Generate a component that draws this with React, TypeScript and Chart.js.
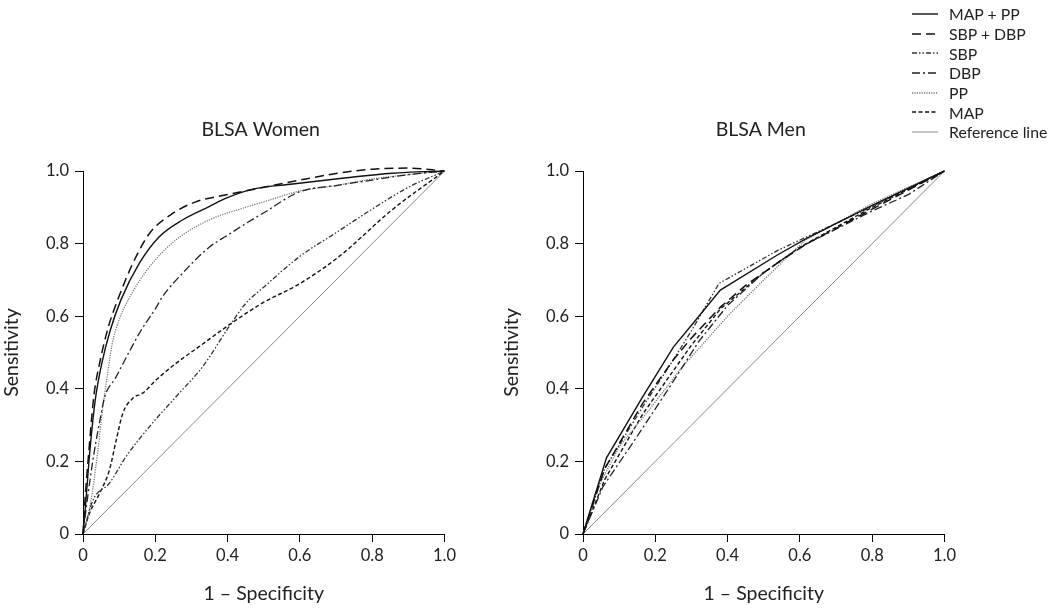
import React, { useEffect, useRef } from "react";
import { Chart, registerables } from "chart.js";
Chart.register(...registerables);

const FONT = "Lato, 'Open Sans', sans-serif";

const seriesNames = ["MAP + PP", "SBP + DBP", "SBP", "DBP", "PP", "MAP", "Reference line"];
const xTickValues = [0, 0.2, 0.4, 0.6, 0.8, 1.0];

// ---- BLSA Women ----
const womenMapPpX = [0, 0.006, 0.02, 0.034, 0.052, 0.075, 0.105, 0.156, 0.211, 0.275, 0.349, 0.396, 0.47, 0.58, 0.717, 0.855, 1];
const womenMapPpY = [0, 0.067, 0.24, 0.37, 0.47, 0.56, 0.645, 0.746, 0.819, 0.865, 0.902, 0.925, 0.95, 0.964, 0.98, 0.994, 1];
const womenSbpDbpX = [0, 0.004, 0.018, 0.03, 0.048, 0.07, 0.096, 0.138, 0.184, 0.248, 0.312, 0.4, 0.5, 0.6, 0.7, 0.8, 0.9, 1];
const womenSbpDbpY = [0, 0.07, 0.25, 0.38, 0.48, 0.57, 0.645, 0.746, 0.828, 0.883, 0.915, 0.935, 0.955, 0.975, 0.993, 1.005, 1.008, 1];
const womenSbpX = [0, 0.028, 0.073, 0.119, 0.184, 0.257, 0.331, 0.404, 0.45, 0.5, 0.6, 0.7, 0.8, 0.9, 1];
const womenSbpY = [0, 0.094, 0.14, 0.213, 0.296, 0.378, 0.461, 0.571, 0.635, 0.68, 0.765, 0.83, 0.895, 0.955, 1];
const womenDbpX = [0, 0.01, 0.03, 0.05, 0.06, 0.09, 0.121, 0.16, 0.2, 0.22, 0.275, 0.349, 0.4, 0.45, 0.5, 0.6, 0.7, 0.8, 0.9, 1];
const womenDbpY = [0, 0.08, 0.22, 0.33, 0.378, 0.43, 0.489, 0.56, 0.62, 0.654, 0.718, 0.79, 0.823, 0.855, 0.885, 0.943, 0.96, 0.975, 0.99, 1];
const womenPpX = [0, 0.02, 0.04, 0.055, 0.065, 0.08, 0.1, 0.125, 0.184, 0.257, 0.349, 0.45, 0.5, 0.6, 0.7, 0.8, 0.9, 1];
const womenPpY = [0, 0.08, 0.22, 0.35, 0.42, 0.52, 0.59, 0.645, 0.736, 0.81, 0.865, 0.9, 0.915, 0.945, 0.96, 0.978, 0.99, 1];
const womenMapX = [0, 0.018, 0.046, 0.073, 0.092, 0.11, 0.138, 0.165, 0.202, 0.257, 0.321, 0.404, 0.496, 0.6, 0.708, 0.855, 1];
const womenMapY = [0, 0.057, 0.112, 0.176, 0.259, 0.332, 0.374, 0.388, 0.424, 0.47, 0.516, 0.576, 0.636, 0.69, 0.764, 0.893, 1];

// ---- BLSA Men ----
const menMapPpX = [0, 0.065, 0.165, 0.25, 0.3, 0.38, 0.54, 0.62, 0.8, 1];
const menMapPpY = [0, 0.21, 0.378, 0.515, 0.575, 0.672, 0.77, 0.815, 0.905, 1];
const menSbpDbpX = [0, 0.06, 0.165, 0.25, 0.3, 0.38, 0.45, 0.55, 0.62, 0.8, 1];
const menSbpDbpY = [0, 0.18, 0.36, 0.48, 0.54, 0.625, 0.685, 0.755, 0.8, 0.895, 1];
const menSbpX = [0, 0.06, 0.165, 0.25, 0.3, 0.376, 0.54, 0.72, 0.82, 1];
const menSbpY = [0, 0.18, 0.35, 0.48, 0.56, 0.69, 0.782, 0.865, 0.912, 1];
const menDbpX = [0, 0.055, 0.137, 0.23, 0.32, 0.4, 0.5, 0.6, 0.8, 0.9, 1];
const menDbpY = [0, 0.13, 0.25, 0.39, 0.53, 0.63, 0.72, 0.79, 0.89, 0.935, 1];
const menPpX = [0, 0.037, 0.1, 0.183, 0.275, 0.32, 0.4, 0.5, 0.615, 0.8, 1];
const menPpY = [0, 0.12, 0.24, 0.342, 0.461, 0.51, 0.6, 0.7, 0.81, 0.91, 1];
const menMapX = [0, 0.06, 0.165, 0.25, 0.3, 0.38, 0.5, 0.6, 0.8, 1];
const menMapY = [0, 0.15, 0.33, 0.45, 0.52, 0.62, 0.72, 0.79, 0.9, 1];

const refX = [0, 1];
const refY = [0, 1];

const lineStyles = [
  { color: "#111", dash: [] as number[], width: 1.4 },
  { color: "#111", dash: [9, 5], width: 1.5 },
  { color: "#333", dash: [5, 2, 1.5, 2, 1.5, 2], width: 1.3 },
  { color: "#222", dash: [8, 3, 2, 3], width: 1.3 },
  { color: "#777", dash: [1.2, 1.2], width: 1.3 },
  { color: "#111", dash: [4, 2.5], width: 1.4 },
  { color: "#888", dash: [] as number[], width: 1 },
];

const zip = (xs: number[], ys: number[]) => xs.map((x, i) => ({ x, y: ys[i] }));

const womenSeries = [
  zip(womenMapPpX, womenMapPpY),
  zip(womenSbpDbpX, womenSbpDbpY),
  zip(womenSbpX, womenSbpY),
  zip(womenDbpX, womenDbpY),
  zip(womenPpX, womenPpY),
  zip(womenMapX, womenMapY),
  zip(refX, refY),
];
const menSeries = [
  zip(menMapPpX, menMapPpY),
  zip(menSbpDbpX, menSbpDbpY),
  zip(menSbpX, menSbpY),
  zip(menDbpX, menDbpY),
  zip(menPpX, menPpY),
  zip(menMapX, menMapY),
  zip(refX, refY),
];

const tickFmt = (v: any) => (Number(v) === 0 ? "0" : Number(v).toFixed(1));

function makeConfig(title: string, series: { x: number; y: number }[][], smooth: boolean): any {
  const datasets = series.map((d, i) => ({
    label: seriesNames[i],
    data: d,
    borderColor: lineStyles[i].color,
    borderDash: lineStyles[i].dash,
    borderWidth: lineStyles[i].width,
    pointRadius: 0,
    fill: false,
    clip: false,
    cubicInterpolationMode: smooth && i < 6 ? "monotone" : "default",
    tension: 0,
    order: i === 6 ? 10 : i,
  }));
  const titlePlugin = {
    id: "panelTitle",
    afterDraw(chart: any) {
      const { ctx, chartArea } = chart;
      ctx.save();
      ctx.font = `19.5px ${FONT}`;
      ctx.fillStyle = "#222";
      ctx.textAlign = "center";
      ctx.textBaseline = "middle";
      ctx.fillText(title, (chartArea.left + chartArea.right) / 2 - 3, chartArea.top - 41);
      ctx.restore();
    },
  };
  const common = {
    type: "linear",
    min: 0,
    max: 1,
    grid: { display: true, drawOnChartArea: false, drawTicks: true, tickLength: 8, color: "#000", lineWidth: 1 },
    border: { display: true, color: "#000", width: 1 },
  };
  return {
    type: "line",
    data: { datasets },
    plugins: [titlePlugin],
    options: {
      animation: false,
      responsive: false,
      maintainAspectRatio: false,
      layout: { padding: { top: 61, right: 14, left: 0, bottom: 0 } },
      plugins: { legend: { display: false }, title: { display: false }, tooltip: { enabled: false } },
      scales: {
        x: {
          ...common,
          afterBuildTicks: (s: any) => {
            s.ticks = xTickValues.map((v) => ({ value: v }));
          },
          afterFit: (s: any) => {
            s.height = 76;
          },
          ticks: { callback: tickFmt, font: { size: 16.5, family: FONT }, color: "#222", padding: 4, maxRotation: 0 },
          title: { display: true, text: "1 – Specificity", font: { size: 19.5, family: FONT }, color: "#222", padding: { top: 0, bottom: 5 } },
        },
        y: {
          ...common,
          afterBuildTicks: (s: any) => {
            s.ticks = xTickValues.map((v) => ({ value: v }));
          },
          afterFit: (s: any) => {
            s.width = 83;
          },
          ticks: { callback: tickFmt, font: { size: 16.5, family: FONT }, color: "#222", padding: 6 },
          title: { display: true, text: "Sensitivity", font: { size: 19.5, family: FONT }, color: "#222", padding: { top: 0, bottom: 0 } },
        },
      },
    },
  };
}

function Panel({ title, series, smooth, left }: { title: string; series: any; smooth: boolean; left: number }) {
  const ref = useRef<HTMLCanvasElement | null>(null);
  useEffect(() => {
    if (!ref.current) return;
    const chart = new Chart(ref.current, makeConfig(title, series, smooth));
    return () => chart.destroy();
  }, []);
  return (
    <canvas
      ref={ref}
      width={460}
      height={500}
      style={{ position: "absolute", left, top: 110, width: 460, height: 500 }}
    />
  );
}

function Legend() {
  return (
    <div style={{ position: "absolute", left: 905, top: 4, fontFamily: FONT, fontSize: 15.8, color: "#222" }}>
      {seriesNames.map((name, i) => (
        <div key={name} style={{ display: "flex", alignItems: "center", height: 19.7 }}>
          <svg width={40} height={10} style={{ display: "block" }}>
            <line
              x1={7}
              y1={5}
              x2={33}
              y2={5}
              stroke={lineStyles[i].color}
              strokeWidth={lineStyles[i].width}
              strokeDasharray={lineStyles[i].dash.length ? lineStyles[i].dash.join(",") : undefined}
            />
          </svg>
          <span style={{ marginLeft: 4, whiteSpace: "nowrap" }}>{name}</span>
        </div>
      ))}
    </div>
  );
}

export default function App() {
  return (
    <div style={{ position: "absolute", left: 0, top: 0, width: 1050, height: 610, background: "#fff", overflow: "hidden" }}>
      <Panel title="BLSA Women" series={womenSeries} smooth={true} left={0} />
      <Panel title="BLSA Men" series={menSeries} smooth={false} left={500} />
      <Legend />
    </div>
  );
}
